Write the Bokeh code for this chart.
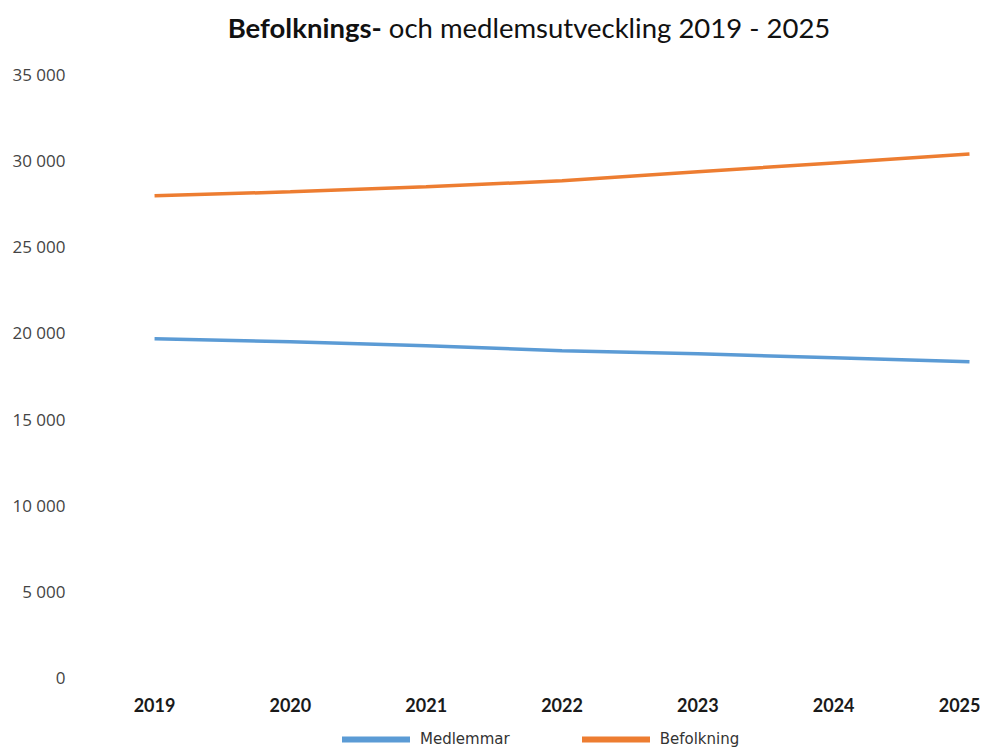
from bokeh.plotting import figure
from bokeh.models import Range1d, FixedTicker, Legend, LegendItem, Div
from bokeh.layouts import column
from bokeh.embed import file_html
from bokeh.resources import INLINE

years = [2019, 2020, 2021, 2022, 2023, 2024, 2025]
medlemmar = [19660, 19490, 19260, 18970, 18790, 18560, 18330]
befolkning = [27960, 28190, 28480, 28830, 29350, 29870, 30390]
y_ticks = [0, 5000, 10000, 15000, 20000, 25000, 30000, 35000]
y_tick_labels = ["0", "5 000", "10 000", "15 000", "20 000", "25 000", "30 000", "35 000"]
title_bold = "Befolknings-"
title_rest = "och medlemsutveckling 2019 - 2025"
series_names = ["Medlemmar", "Befolkning"]
series_colors = ["#5B9BD5", "#ED7D31"]

title = Div(text=f"<b>{title_bold}</b> {title_rest}", width=980, height=55,
            styles={"font-family": "Lato", "font-size": "27.5px", "color": "#111111",
                    "text-align": "center", "line-height": "30px", "padding-top": "13px",
                    "width": "980px", "padding-left": "78px", "box-sizing": "border-box"},
            margin=(0, 0, 0, 0))

p = figure(width=980, height=663, output_backend="svg", toolbar_location=None,
           x_range=Range1d(2018.418, 2025.059), y_range=Range1d(0, 35000),
           min_border_left=75, min_border_right=3, min_border_top=19, min_border_bottom=41,
           margin=(0, 0, 0, 0))
p.outline_line_color = None
p.xgrid.grid_line_color = None
p.ygrid.grid_line_color = None

r1 = p.line(years, medlemmar, line_color=series_colors[0], line_width=3.5)
r2 = p.line(years, befolkning, line_color=series_colors[1], line_width=3.5)

p.xaxis.ticker = FixedTicker(ticks=years)
p.xaxis.axis_line_color = None
p.xaxis.major_tick_line_color = None
p.xaxis.major_tick_out = 0
p.xaxis.minor_tick_line_color = None
p.xaxis.major_label_text_font = "Lato"
p.xaxis.major_label_text_font_style = "bold"
p.xaxis.major_label_text_font_size = "18px"
p.xaxis.major_label_text_color = "#1a1a1a"
p.xaxis.major_label_standoff = 20

p.yaxis.ticker = FixedTicker(ticks=y_ticks)
p.yaxis.major_label_overrides = {t: l for t, l in zip(y_ticks, y_tick_labels)}
p.yaxis.axis_line_color = None
p.yaxis.major_tick_line_color = None
p.yaxis.major_tick_out = 0
p.yaxis.minor_tick_line_color = None
p.yaxis.major_label_text_font = "Open Sans"
p.yaxis.major_label_text_font_size = "17px"
p.yaxis.major_label_text_color = "#444444"
p.yaxis.major_label_standoff = 10

# separate strip for the legend (series drawn outside its visible range)
lf = figure(width=980, height=30, output_backend="svg", toolbar_location=None,
            x_range=Range1d(0, 1), y_range=Range1d(0, 1),
            min_border=0, margin=(0, 0, 0, 0))
lf.outline_line_color = None
lf.axis.visible = False
lf.grid.visible = False
l1 = lf.line(years, medlemmar, line_color=series_colors[0], line_width=6, line_cap="round")
l2 = lf.line(years, befolkning, line_color=series_colors[1], line_width=6, line_cap="round")
legend = Legend(items=[LegendItem(label=series_names[0], renderers=[l1]),
                       LegendItem(label=series_names[1], renderers=[l2])],
                orientation="horizontal", location=(267, 0),
                glyph_width=68, glyph_height=10, spacing=72, padding=0, margin=0,
                label_standoff=10,
                label_text_font="DejaVu Sans", label_text_font_size="15px",
                label_text_color="#333333", border_line_color=None,
                background_fill_alpha=0)
lf.add_layout(legend, "center")

layout = column(title, p, lf, spacing=0)
open("out.html", "w").write(file_html(layout, INLINE))
